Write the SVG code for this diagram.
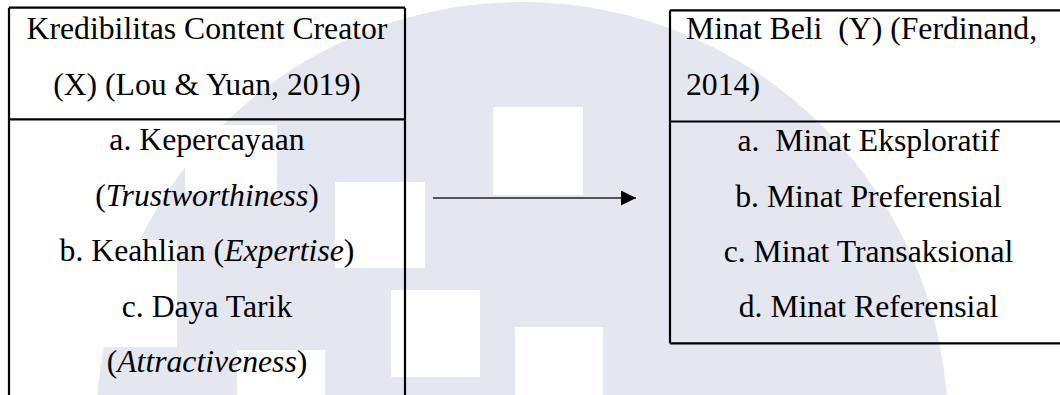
<svg xmlns="http://www.w3.org/2000/svg" width="1060" height="395" viewBox="0 0 1060 395">
  <style>
    .t { font-family: "Liberation Serif", "Times New Roman", serif; font-size: 31.7px; fill: #000; white-space: pre; }
    .c { text-anchor: middle; }
    .i { font-style: italic; }
    .ln { stroke: #000; stroke-width: 2.2; fill: none; }
    .sq { fill: #ffffff; }
  </style>
  <defs>
    <marker id="arrow" markerUnits="userSpaceOnUse" markerWidth="16" markerHeight="16" refX="15" refY="7.5" orient="auto">
      <path d="M0,0 L15,7.5 L0,15 Z" fill="#000"/>
    </marker>
  </defs>
  <rect x="0" y="0" width="1060" height="395" fill="#ffffff"/>
  <g id="watermark">
    <circle cx="522" cy="428" r="426" fill="#e4e7f0"/>
    <rect class="sq" x="185" y="125" width="92" height="67"/>
    <rect class="sq" x="85" y="240" width="92" height="107"/>
    <rect class="sq" x="335" y="182" width="90" height="86"/>
    <rect class="sq" x="493" y="107" width="90" height="88"/>
    <rect class="sq" x="391" y="290" width="89" height="87"/>
    <rect class="sq" x="515" y="327" width="88" height="70"/>
    <rect class="sq" x="237" y="350" width="88" height="47"/>
  </g>
  <g id="node-x">
    <path class="ln" d="M9,7.7 H405 M9,7.7 V396 M405,7.7 V396 M9,119.3 H405"/>
    <text class="t c" x="207" y="39">Kredibilitas Content Creator</text>
    <text class="t c" x="207" y="95">(X) (Lou &amp; Yuan, 2019)</text>
    <text class="t c" x="207" y="150">a. Kepercayaan</text>
    <text class="t c" x="207" y="205.5">(<tspan class="i">Trustworthiness</tspan>)</text>
    <text class="t c" x="207" y="261">b. Keahlian (<tspan class="i">Expertise</tspan>)</text>
    <text class="t c" x="207" y="316.5">c. Daya Tarik</text>
    <text class="t c" x="207" y="372">(<tspan class="i">Attractiveness</tspan>)</text>
  </g>
  <g id="node-y">
    <path class="ln" d="M670,10.3 H1062 M670,10.3 V343.3 M670,343.3 H1062 M670,121.5 H1062"/>
    <text class="t" x="686" y="39.3">Minat Beli  (Y) (Ferdinand,</text>
    <text class="t" x="686" y="95">2014)</text>
    <text class="t c" x="868.5" y="151">a.  Minat Eksploratif</text>
    <text class="t c" x="868.5" y="206.5">b. Minat Preferensial</text>
    <text class="t c" x="868.5" y="262">c. Minat Transaksional</text>
    <text class="t c" x="868.5" y="317">d. Minat Referensial</text>
  </g>
  <g id="connectors">
    <line x1="433" y1="198" x2="636" y2="198" stroke="#222" stroke-width="1.5" marker-end="url(#arrow)"/>
  </g>
</svg>
